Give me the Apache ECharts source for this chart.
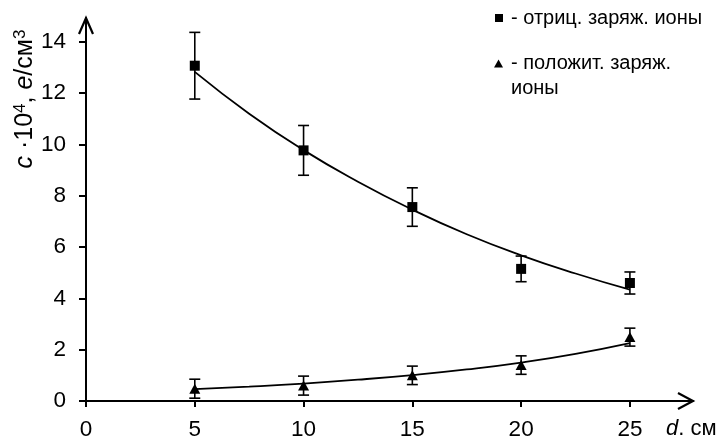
<!DOCTYPE html>
<html>
<head>
<meta charset="utf-8">
<script src="https://cdn.jsdelivr.net/npm/echarts@6/dist/echarts.min.js"></script>
<style>html,body{margin:0;padding:0;background:#fff;}#c{width:720px;height:441px;}</style>
</head>
<body>
<div id="c"></div>
<script>
// ---- data ----
var distances = [5, 10, 15, 20, 25];
var negValues = [13.07, 9.77, 7.56, 5.15, 4.60];
var negErrors = [1.30, 0.97, 0.75, 0.50, 0.43];
var posValues = [0.48, 0.60, 1.00, 1.40, 2.49];
var posErrors = [0.37, 0.37, 0.36, 0.36, 0.35];
// fitted trend curves
var negFitX = [5, 7.5, 10, 12.5, 15, 17.5, 20, 22.5, 25];
var negFitY = [12.83, 11.2, 9.78, 8.55, 7.46, 6.5, 5.68, 4.97, 4.34];
var posFitX = [5, 7.5, 10, 12.5, 15, 17.5, 20, 22.5, 25];
var posFitY = [0.46, 0.56, 0.68, 0.83, 1.01, 1.23, 1.5, 1.84, 2.26];
var xTicks = [0, 5, 10, 15, 20, 25];
var yTicks = [0, 2, 4, 6, 8, 10, 12, 14];
var xMax = 27.9;
var yMax = 14.93;
var seriesNames = ['отриц. заряж. ионы', 'положит. заряж. ионы'];
var legendTexts = ['- отриц. заряж. ионы', '\n- положит. заряж.\nионы'];

var FONT = "'Liberation Sans', Arial, sans-serif";
var chart = echarts.init(document.getElementById('c'), null, {renderer: 'canvas'});

function pairs(xs, ys) { return xs.map(function (x, i) { return [x, ys[i]]; }); }
function errData(xs, ys, es) { return xs.map(function (x, i) { return [x, ys[i] - es[i], ys[i] + es[i]]; }); }

function renderErr(params, api) {
  var x = api.value(0);
  var lo = api.coord([x, api.value(1)]);
  var hi = api.coord([x, api.value(2)]);
  var w = 5.5;
  var st = {stroke: '#000', lineWidth: 1.6};
  return {
    type: 'group',
    children: [
      {type: 'line', shape: {x1: lo[0], y1: lo[1], x2: hi[0], y2: hi[1]}, style: st},
      {type: 'line', shape: {x1: lo[0] - w, y1: lo[1], x2: lo[0] + w, y2: lo[1]}, style: st},
      {type: 'line', shape: {x1: hi[0] - w, y1: hi[1], x2: hi[0] + w, y2: hi[1]}, style: st}
    ]
  };
}

var option = {
  animation: false,
  backgroundColor: '#fff',
  textStyle: {fontFamily: FONT, color: '#000'},
  grid: {left: 86, right: 27, top: 18, bottom: 38.5, containLabel: false},
  xAxis: {
    type: 'value', min: 0, max: xMax,
    axisLine: {lineStyle: {color: '#000', width: 2}},
    axisTick: {length: 6, lineStyle: {color: '#000', width: 2}, customValues: xTicks},
    axisLabel: {customValues: xTicks, margin: 17, fontSize: 22.5, color: '#000', fontFamily: FONT},
    splitLine: {show: false}
  },
  yAxis: {
    type: 'value', min: 0, max: yMax,
    axisLine: {show: true, lineStyle: {color: '#000', width: 2}},
    axisTick: {show: true, length: 7, lineStyle: {color: '#000', width: 2}, customValues: yTicks},
    axisLabel: {customValues: yTicks, margin: 20, fontSize: 22.5, color: '#000', fontFamily: FONT},
    splitLine: {show: false}
  },
  legend: [
    {
      data: [{name: seriesNames[0], icon: 'rect'}],
      left: 490, top: 0.5, orient: 'vertical', selectedMode: false,
      itemWidth: 8, itemHeight: 8, itemGap: 5,
      formatter: function () { return legendTexts[0]; },
      textStyle: {fontSize: 20, lineHeight: 25, color: '#000', fontFamily: FONT, padding: [0, 0, 0, 3]}
    },
    {
      data: [{name: seriesNames[1], icon: 'triangle'}],
      left: 489, top: 21, orient: 'vertical', selectedMode: false,
      itemWidth: 9, itemHeight: 8, itemGap: 5,
      formatter: function () { return legendTexts[1]; },
      textStyle: {fontSize: 20, lineHeight: 25, color: '#000', fontFamily: FONT, padding: [0, 0, 0, 3]}
    }
  ],
  graphic: [
    {
      type: 'text', x: 25, y: 99, rotation: Math.PI / 2,
      style: {
        text: '{i|c} ·10{s|4}, {i|e}/см{s|3}',
        textAlign: 'center', textVerticalAlign: 'middle',
        font: '25px ' + FONT, fill: '#000',
        rich: {
          i: {fontStyle: 'italic', fontSize: 25, fontFamily: FONT, fill: '#000'},
          s: {fontSize: 17, fontFamily: FONT, verticalAlign: 'top', fill: '#000', padding: [0, 0, 9, 0]}
        }
      }
    },
    {
      type: 'text', left: 666, top: 418,
      style: {
        text: '{i|d}. см', font: '22px ' + FONT, fill: '#000',
        rich: {i: {fontStyle: 'italic', fontSize: 22, fontFamily: FONT, fill: '#000'}}
      }
    }
  ],
  series: [
    {type: 'line', data: pairs(negFitX, negFitY), smooth: true, showSymbol: false, lineStyle: {color: '#000', width: 1.8}, z: 2, silent: true},
    {type: 'line', data: pairs(posFitX, posFitY), smooth: true, showSymbol: false, lineStyle: {color: '#000', width: 1.8}, z: 2, silent: true},
    {type: 'custom', data: errData(distances, negValues, negErrors), renderItem: renderErr, z: 3, silent: true},
    {type: 'custom', data: errData(distances, posValues, posErrors), renderItem: renderErr, z: 3, silent: true},
    {name: seriesNames[0], type: 'scatter', data: pairs(distances, negValues), symbol: 'rect', symbolSize: 10, itemStyle: {color: '#000', opacity: 1}, z: 4},
    {name: seriesNames[1], type: 'scatter', data: pairs(distances, posValues), symbol: 'triangle', symbolSize: [11, 10], itemStyle: {color: '#000', opacity: 1}, z: 4}
  ]
};
chart.setOption(option);

// open chevron arrow heads at the axis ends, placed via the axis scales
var xEnd = chart.convertToPixel({gridIndex: 0}, [xMax, 0]);
var yEnd = chart.convertToPixel({gridIndex: 0}, [0, yMax]);
var arrowStyle = {stroke: '#000', lineWidth: 2.2, fill: null, lineJoin: 'miter'};
chart.setOption({
  graphic: option.graphic.concat([
    {type: 'polyline', shape: {points: [[xEnd[0] - 15, xEnd[1] - 8], [xEnd[0], xEnd[1]], [xEnd[0] - 15, xEnd[1] + 8]]}, style: arrowStyle, z: 10},
    {type: 'polyline', shape: {points: [[yEnd[0] - 7, yEnd[1] + 16], [yEnd[0], yEnd[1]], [yEnd[0] + 7, yEnd[1] + 16]]}, style: arrowStyle, z: 10}
  ])
});
</script>
</body>
</html>
